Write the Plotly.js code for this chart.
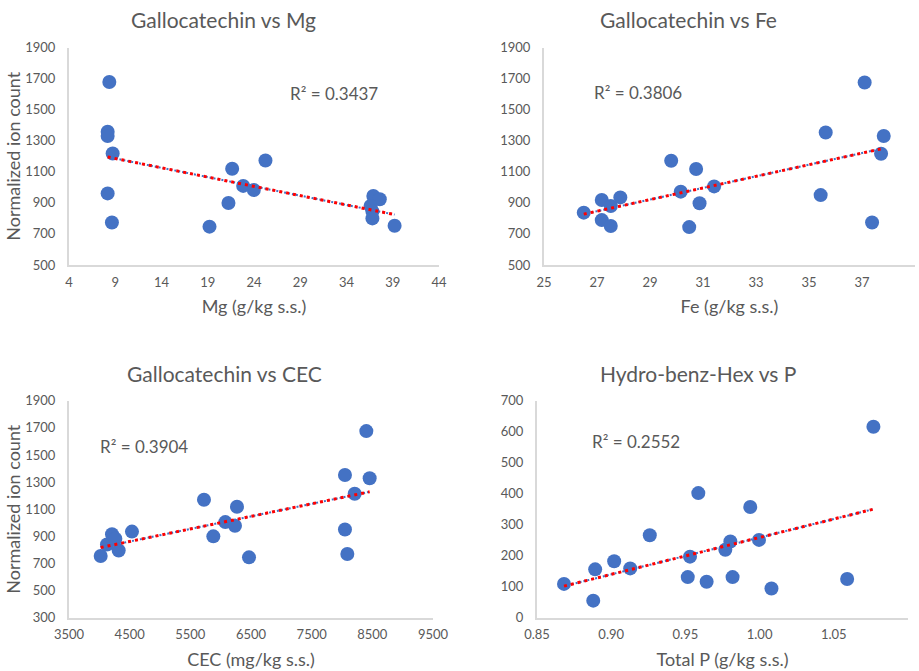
<!DOCTYPE html>
<html>
<head>
<meta charset="utf-8">
<script src="https://cdn.plot.ly/plotly-3.0.1.min.js"></script>
<style>html,body{margin:0;padding:0;background:#fff;}#chart{width:919px;height:671px;}</style>
</head>
<body>
<div id="chart"></div>
<script>
// ---- Data ----
const titles = ["Gallocatechin vs Mg", "Gallocatechin vs Fe", "Gallocatechin vs CEC", "Hydro-benz-Hex vs P"];
const xTitles = ["Mg (g/kg s.s.)", "Fe (g/kg s.s.)", "CEC (mg/kg s.s.)", "Total P (g/kg s.s.)"];
const yTitle = "Normalized ion count";
const r2Labels = ["R\u00b2 = 0.3437", "R\u00b2 = 0.3806", "R\u00b2 = 0.3904", "R\u00b2 = 0.2552"];

const mgX = [8.36, 8.18, 8.18, 8.72, 8.18, 8.64, 19.19, 21.24, 21.64, 22.83, 23.98, 25.24, 36.9, 37.6, 36.6, 36.8, 36.8, 39.2];
const mgY = [1678, 1358, 1330, 1218, 961, 774, 747, 899, 1120, 1009, 983, 1173, 944, 923, 880, 845, 800, 753];

const feX = [26.5, 27.18, 27.18, 27.52, 27.52, 27.88, 29.8, 30.16, 30.48, 30.74, 30.87, 31.42, 35.44, 35.63, 37.1, 37.38, 37.72, 37.82];
const feY = [837, 918, 789, 879, 751, 935, 1171, 972, 744, 1118, 897, 1006, 950, 1353, 1675, 774, 1216, 1330];

const cecX = [4022, 4126, 4209, 4264, 4319, 4538, 5725, 5879, 6077, 6236, 6269, 6467, 8049, 8049, 8088, 8209, 8401, 8456];
const cecY = [755, 840, 915, 882, 795, 935, 1170, 900, 1005, 978, 1118, 745, 1352, 950, 770, 1214, 1676, 1328];

const pX = [0.8682, 0.8879, 0.8892, 0.902, 0.9128, 0.926, 0.9516, 0.9531, 0.9587, 0.9643, 0.9769, 0.9803, 0.9818, 0.9937, 0.9996, 1.008, 1.059, 1.0767];
const pY = [109, 55, 156, 182, 159, 266, 131, 197, 402, 116, 219, 246, 131, 357, 251, 94, 125, 616];

const xRanges = [[4, 44], [25, 39], [3500, 9500], [0.85, 1.10]];
const xDtick = [5, 2, 1000, 0.05];
const yRanges = [[500, 1900], [500, 1900], [300, 1900], [0, 700]];
const yDtick = [200, 200, 200, 100];

// ---- Build ----
const datasets = [[mgX, mgY], [feX, feY], [cecX, cecY], [pX, pY]];
const blue = "#4472C4";
const grey = "#595959";
const font = "Lato, 'Open Sans', sans-serif";

function linfit(x, y) {
  const n = x.length;
  let sx = 0, sy = 0, sxx = 0, sxy = 0;
  for (let i = 0; i < n; i++) { sx += x[i]; sy += y[i]; sxx += x[i]*x[i]; sxy += x[i]*y[i]; }
  const b = (n*sxy - sx*sy) / (n*sxx - sx*sx);
  const a = (sy - b*sx) / n;
  return [a, b];
}

const traces = [];
datasets.forEach((d, i) => {
  const xa = i === 0 ? "x" : "x" + (i+1);
  const ya = i === 0 ? "y" : "y" + (i+1);
  traces.push({type: "scatter", mode: "markers", x: d[0], y: d[1], xaxis: xa, yaxis: ya,
    marker: {color: blue, size: 14, line: {width: 0}}, hoverinfo: "skip", showlegend: false});
  const [a, b] = linfit(d[0], d[1]);
  const xmin = Math.min(...d[0]), xmax = Math.max(...d[0]);
  const tx = [xmin, xmax], ty = [a + b*xmin, a + b*xmax];
  traces.push({type: "scatter", mode: "lines", x: tx, y: ty, xaxis: xa, yaxis: ya,
    line: {color: blue, width: 2, dash: "2px,2px"}, hoverinfo: "skip", showlegend: false});
  traces.push({type: "scatter", mode: "lines", x: tx, y: ty, xaxis: xa, yaxis: ya,
    line: {color: "#FF0000", width: 3, dash: "3px,4px"}, hoverinfo: "skip", showlegend: false});
});

const W = 919, H = 671;
// plot areas in pixels: [x0, x1, ytop, ybottom]
const areas = [[69, 439, 47.5, 265], [544, 915, 47.5, 265], [69, 433, 400.7, 617.7], [537, 908, 400.7, 617.7]];

const layout = {
  width: W, height: H, margin: {l: 0, r: 0, t: 0, b: 0},
  paper_bgcolor: "#fff", plot_bgcolor: "#fff",
  font: {family: font, color: grey},
  showlegend: false, annotations: []
};

areas.forEach((ar, i) => {
  const sfx = i === 0 ? "" : String(i+1);
  layout["xaxis" + sfx] = {
    domain: [ar[0]/W, ar[1]/W], range: xRanges[i], dtick: xDtick[i], tick0: xRanges[i][0],
    anchor: "y" + sfx, showgrid: false, zeroline: false, showline: true, linecolor: "#D9D9D9", linewidth: 2,
    ticks: "", ticklabelstandoff: 4, tickfont: {size: 13, color: grey, family: font},
    tickformat: i === 3 ? ".2f" : "d",
    title: {text: xTitles[i], font: {size: 18, color: grey, family: font}, standoff: 12}
  };
  layout["yaxis" + sfx] = {
    domain: [1 - ar[3]/H, 1 - ar[2]/H], range: yRanges[i], dtick: yDtick[i], tick0: yRanges[i][0],
    anchor: "x" + sfx, showgrid: false, zeroline: false, showline: true, linecolor: "#D9D9D9", linewidth: 2,
    ticks: "", ticklabelstandoff: 9, tickfont: {size: 13, color: grey, family: font},
    title: {text: (i === 0 || i === 2) ? yTitle : "", font: {size: 18, color: grey, family: font}, standoff: 0}
  };
});

const titlePos = [[223, 19], [688, 19], [224, 373], [698, 373]];
titlePos.forEach((p, i) => {
  layout.annotations.push({text: titles[i], xref: "paper", yref: "paper", x: p[0]/W, y: 1 - p[1]/H,
    xanchor: "center", yanchor: "middle", showarrow: false, font: {size: 21, color: grey, family: font}});
});
const r2Pos = [[334, 93], [638, 92], [144, 446], [636, 441]];
r2Pos.forEach((p, i) => {
  layout.annotations.push({text: r2Labels[i], xref: "paper", yref: "paper", x: p[0]/W, y: 1 - p[1]/H,
    xanchor: "center", yanchor: "middle", showarrow: false, font: {size: 17, color: grey, family: font}});
});

Plotly.newPlot("chart", traces, layout, {staticPlot: true, displayModeBar: false});
</script>
</body>
</html>
